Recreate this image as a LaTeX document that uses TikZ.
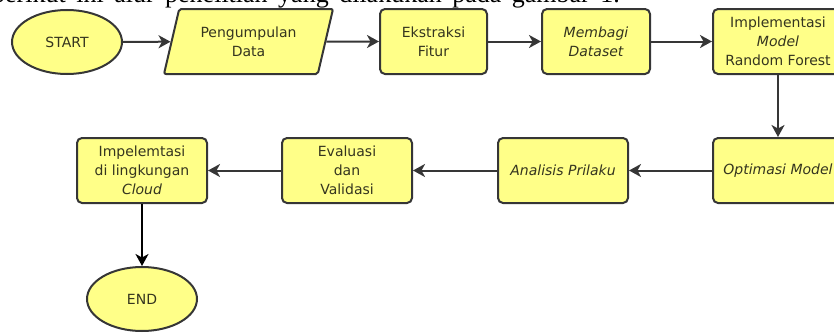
\documentclass[tikz,border=0pt]{standalone}
\usepackage{fontspec}
\setmainfont{Liberation Serif}
\newfontfamily\flowfont{DejaVu Sans}
\usetikzlibrary{arrows.meta,shapes.geometric}
\definecolor{BoxClr}{HTML}{FFFF88}
\definecolor{LineClr}{HTML}{363636}
\definecolor{TextClr}{HTML}{35351F}

\tikzset{
  flowbox/.style={draw=LineClr,line width=2pt,fill=BoxClr,rounded corners=5pt,
    minimum width=130pt,minimum height=65pt,inner sep=0pt,align=center,
    text=TextClr,font=\flowfont\fontsize{14}{19}\selectfont},
  flowend/.style={flowbox,ellipse,minimum width=110pt,minimum height=64pt},
  flowdata/.style={flowbox,trapezium,trapezium left angle=63,trapezium right angle=117,
    trapezium stretches body,rounded corners=2pt,minimum width=169pt},
  flowline/.style={draw=LineClr,line width=2pt,
    -{Stealth[length=12pt,width=13pt,inset=3.5pt]}}
}

\begin{document}
\begin{tikzpicture}[x=1pt,y=-1pt]

\useasboundingbox (0,0) rectangle (834,332);
\clip (0,0) rectangle (834,332);

% cut line of the text above
\node[anchor=base east,inner sep=0pt,font=\fontsize{26}{30}\selectfont] (caption) at (620,2)
  {\spaceskip=10.5pt\relax berikut ini alur penelitian yang dilakukan pada gambar 1.};

% top row
\node[flowend] (start) at (67,42) {START};
\node[flowdata] (data) at (248.5,41.5) {Pengumpulan\\Data};
\node[flowbox,minimum width=107pt] (fitur) at (433.5,41.5) {Ekstraksi\\Fitur};
\node[flowbox,minimum width=108pt] (split) at (596,41.5) {\itshape Membagi\\\itshape Dataset};
\node[flowbox] (model) at (778,41.5) {Implementasi\\{\itshape Model}\\Random Forest};

% bottom row
\node[flowbox] (optim) at (778,170.5) {\itshape Optimasi Model};
\node[flowbox] (analisis) at (563,170.5) {\itshape Analisis Prilaku};
\node[flowbox] (evaluasi) at (347,170.5) {Evaluasi\\dan\\Validasi};
\node[flowbox] (cloud) at (142,170.5) {Impelemtasi\\di lingkungan\\{\itshape Cloud}};
\node[flowend] (finish) at (142,299) {END};

\draw[flowline] (start) -- (data);
\draw[flowline] (data) -- (fitur);
\draw[flowline] (fitur) -- (split);
\draw[flowline] (split) -- (model);
\draw[flowline] (model) -- (optim);
\draw[flowline] (optim) -- (analisis);
\draw[flowline] (analisis) -- (evaluasi);
\draw[flowline] (evaluasi) -- (cloud);
\draw[flowline,draw=black] (cloud) -- (finish);

\end{tikzpicture}
\end{document}
